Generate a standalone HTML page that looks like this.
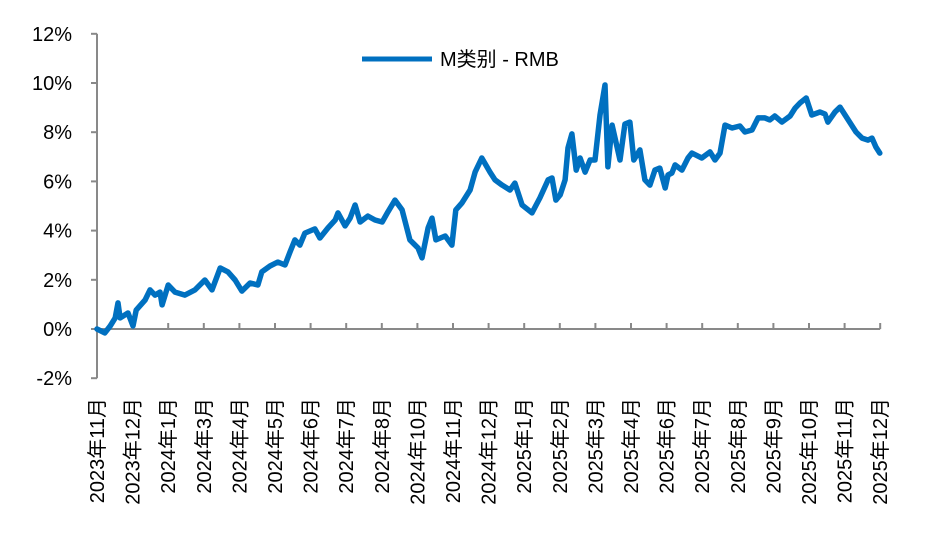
<!DOCTYPE html>
<html><head><meta charset="utf-8"><style>
body{margin:0;background:#fff;}
svg{display:block;font-family:"Liberation Sans","Noto Sans CJK SC",sans-serif;}
</style></head><body>
<svg id="chart" width="936" height="544"></svg>
<script>
const yTicks=[-2,0,2,4,6,8,10,12];
const xLabels=["2023年11月","2023年12月","2024年1月","2024年3月","2024年4月","2024年5月","2024年6月","2024年7月","2024年8月","2024年10月","2024年11月","2024年12月","2025年1月","2025年2月","2025年3月","2025年4月","2025年6月","2025年7月","2025年8月","2025年9月","2025年10月","2025年11月","2025年12月"];
const months=[0,.22,.37,.51,.59,.65,.87,1.01,1.10,1.35,1.49,1.63,1.77,1.83,2.0,2.19,2.47,2.75,3.03,3.23,3.46,3.68,3.88,4.07,4.30,4.52,4.63,4.86,5.08,5.28,5.42,5.56,5.70,5.84,6.12,6.26,6.49,6.69,6.77,6.97,7.11,7.25,7.39,7.61,7.81,8.01,8.17,8.37,8.57,8.79,9.02,9.13,9.30,9.41,9.52,9.78,9.97,10.08,10.25,10.48,10.62,10.81,11.04,11.18,11.38,11.60,11.74,11.94,12.22,12.44,12.67,12.78,12.89,13.01,13.15,13.23,13.34,13.46,13.57,13.71,13.85,13.99,14.13,14.27,14.35,14.47,14.69,14.83,14.97,15.08,15.25,15.39,15.53,15.67,15.81,15.96,16.04,16.15,16.24,16.43,16.60,16.71,16.88,16.99,17.22,17.36,17.50,17.64,17.84,18.06,18.20,18.40,18.57,18.76,18.90,19.04,19.24,19.47,19.61,19.75,19.92,20.08,20.31,20.45,20.53,20.73,20.87,21.10,21.32,21.49,21.66,21.77,21.88,21.99];
const values=[0,-0.16,0.12,0.45,1.06,0.45,0.65,0.12,0.77,1.18,1.59,1.38,1.50,0.98,1.79,1.50,1.38,1.59,1.99,1.59,2.48,2.32,1.99,1.54,1.87,1.79,2.32,2.56,2.72,2.60,3.13,3.62,3.41,3.90,4.07,3.70,4.11,4.43,4.72,4.19,4.51,5.04,4.35,4.59,4.43,4.35,4.76,5.24,4.84,3.62,3.29,2.89,4.11,4.51,3.62,3.78,3.41,4.84,5.12,5.65,6.38,6.95,6.38,6.06,5.85,5.65,5.93,5.04,4.72,5.33,6.06,6.14,5.24,5.45,6.06,7.36,7.93,6.46,6.95,6.38,6.87,6.87,8.70,9.92,6.59,8.29,6.87,8.33,8.41,6.87,7.28,6.06,5.85,6.46,6.54,5.73,6.26,6.34,6.67,6.46,6.95,7.15,7.03,6.95,7.20,6.87,7.15,8.29,8.17,8.25,8.01,8.09,8.58,8.58,8.50,8.66,8.41,8.66,8.98,9.19,9.39,8.70,8.82,8.74,8.41,8.82,9.02,8.50,8.01,7.76,7.68,7.76,7.40,7.15];

const svg=document.getElementById('chart');
const NS='http://www.w3.org/2000/svg';
const X0=97,XW=35.6,Y0=329,YS=24.6;
const xs=m=>X0+m*XW;
const ys=v=>Y0-v*YS;
function mk(tag,attrs){const e=document.createElementNS(NS,tag);for(const k in attrs)e.setAttribute(k,attrs[k]);svg.appendChild(e);return e;}

let ya=mk('line',{x1:X0,y1:ys(12),x2:X0,y2:ys(-2),stroke:'#898989','stroke-width':2});


yTicks.forEach(t=>{
  const tk=mk('line',{x1:X0-6,y1:ys(t),x2:X0,y2:ys(t),stroke:'#898989','stroke-width':2});
  
  
  const tx=mk('text',{x:72,y:ys(t)+7,'text-anchor':'end','font-size':20,fill:'#000'});
  tx.textContent=t+'%';
  
  
});
let xa=mk('line',{x1:X0,y1:Y0,x2:xs(22),y2:Y0,stroke:'#898989','stroke-width':2});


xLabels.forEach((l,i)=>{
  const x=xs(i);
  if(i>0){const tk=mk('line',{x1:x,y1:Y0-6,x2:x,y2:Y0,stroke:'#898989','stroke-width':2});
  
  }
  const tx=mk('text',{x:0,y:0,'text-anchor':'end','font-size':20,fill:'#000',transform:`translate(${x+7},398) rotate(-90)`});
  tx.textContent=l;
  
  
});
const d=months.map((m,i)=>(i?'L':'M')+xs(m).toFixed(1)+' '+ys(values[i]).toFixed(1)).join(' ');
const p=mk('path',{d:d,fill:'none',stroke:'#0070C0','stroke-width':5.5,'stroke-linejoin':'round','stroke-linecap':'round'});


const ll=mk('line',{x1:362,y1:59,x2:432,y2:59,stroke:'#0070C0','stroke-width':5});


const lt=mk('text',{x:440,y:66,'font-size':20,fill:'#000'});
lt.textContent='M类别 - RMB';


</script>
</body></html>
